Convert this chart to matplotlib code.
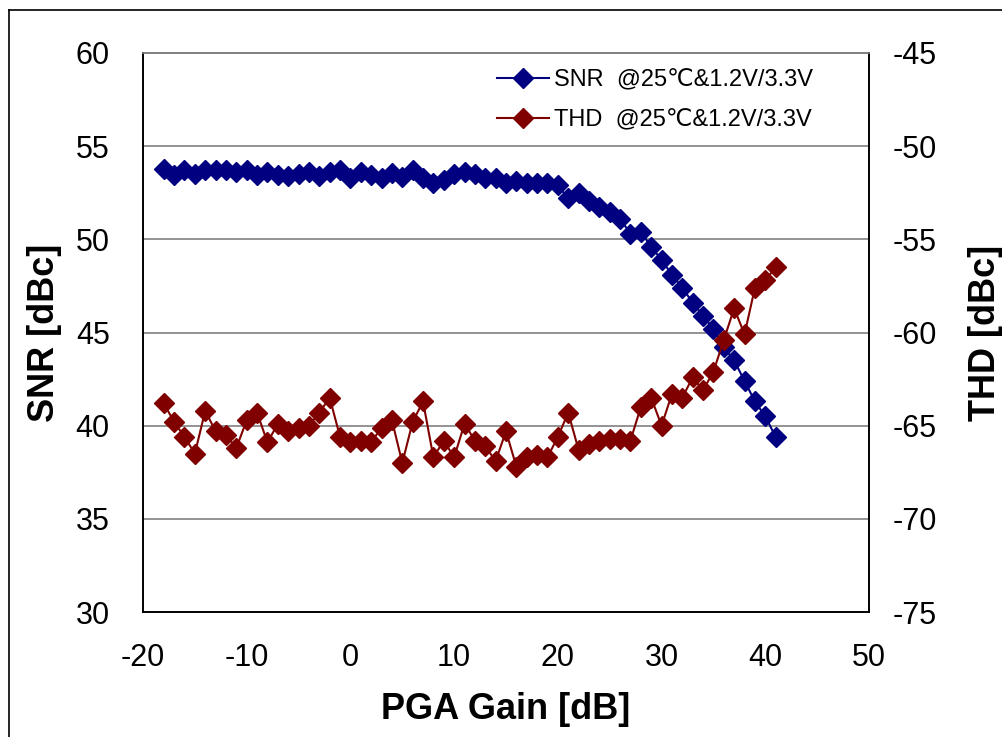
import matplotlib
matplotlib.use("Agg")
import matplotlib.pyplot as plt
import numpy as np
from matplotlib.lines import Line2D

plt.rcParams['font.family'] = ['Liberation Sans', 'DejaVu Sans']
plt.rcParams['axes.unicode_minus'] = False

# PGA gain steps [dB]
gain = np.arange(-18, 42, 1)

# SNR [dBc]
snr = [53.8, 53.45, 53.7, 53.5, 53.7, 53.7, 53.7, 53.6, 53.7, 53.45,
       53.6, 53.45, 53.4, 53.5, 53.6, 53.4, 53.6, 53.7, 53.3, 53.6,
       53.45, 53.3, 53.57, 53.36, 53.7, 53.3, 53.04, 53.2, 53.5, 53.6,
       53.5, 53.3, 53.3, 53.05, 53.15, 53.0, 53.0, 53.0, 52.9, 52.2,
       52.47, 52.05, 51.75, 51.45, 51.1, 50.3, 50.4, 49.6, 48.9, 48.1,
       47.4, 46.6, 45.9, 45.2, 44.2, 43.5, 42.4, 41.3, 40.5, 39.4]

# THD [dBc] (right axis)
thd = [-63.8, -64.8, -65.6, -66.5, -64.2, -65.3, -65.5, -66.2, -64.7, -64.3,
       -65.9, -64.9, -65.3, -65.1, -65.0, -64.3, -63.5, -65.6, -65.9, -65.8,
       -65.9, -65.1, -64.7, -67.0, -64.8, -63.7, -66.7, -65.8, -66.7, -64.9,
       -65.8, -66.1, -66.9, -65.3, -67.2, -66.7, -66.6, -66.7, -65.6, -64.3,
       -66.3, -66.0, -65.8, -65.7, -65.7, -65.8, -64.0, -63.5, -65.0, -63.3,
       -63.5, -62.4, -63.1, -62.1, -60.4, -58.7, -60.1, -57.6, -57.2, -56.5]

snr_ticks = [30, 35, 40, 45, 50, 55, 60]
thd_ticks = [-75, -70, -65, -60, -55, -50, -45]
gain_ticks = [-20, -10, 0, 10, 20, 30, 40, 50]

fig = plt.figure(figsize=(10.02, 7.37), dpi=100)
ax = fig.add_axes([143 / 1002, 125 / 737, 726 / 1002, 559 / 737])
ax2 = ax.twinx()

for y in snr_ticks[1:]:
    ax.axhline(y, color='#808080', lw=1.2, zorder=0)

ax.plot(gain, snr, color='#000080', marker='D', ms=10, lw=1.5,
        label='SNR  @25\u2103&1.2V/3.3V', zorder=3)
ax2.plot(gain, thd, color='#800000', marker='D', ms=10, lw=1.5,
         label='THD  @25\u2103&1.2V/3.3V', zorder=3)

ax.set_xlim(-20, 50)
ax.set_ylim(30, 60)
ax2.set_ylim(-75, -45)
ax.set_xticks(gain_ticks)
ax.set_yticks(snr_ticks)
ax2.set_yticks(thd_ticks)
ax.tick_params(length=0, labelsize=22)
ax.tick_params(axis='y', pad=24)
ax.tick_params(axis='x', pad=22)
ax2.tick_params(length=0, labelsize=22, pad=17)

for a in (ax, ax2):
    for s in a.spines.values():
        s.set_color('black')
        s.set_linewidth(1.2)
    a.spines['top'].set_color('#808080')

ax.set_xlabel('PGA Gain [dB]', fontsize=26, fontweight='bold', va='center')
ax.xaxis.set_label_coords(0.5, -0.175)
ax.set_ylabel('SNR [dBc]', fontsize=26, fontweight='bold', va='center')
ax.yaxis.set_label_coords(-0.136, 0.5)
ax2.set_ylabel('THD [dBc]', fontsize=26, fontweight='bold', va='center',
               rotation=90)
ax2.yaxis.set_label_coords(1.16, 0.5)

h1, l1 = ax.get_legend_handles_labels()
h2, l2 = ax2.get_legend_handles_labels()
ax2.legend(h1 + h2, l1 + l2, loc='upper left', bbox_to_anchor=(0.465, 1.0),
           frameon=False, fontsize=17, handlelength=2.2, handletextpad=0.2,
           labelspacing=0.76, borderaxespad=0.3)

# outer chart border
fig.add_artist(Line2D([9 / 1002, 9 / 1002], [0, 1 - 10 / 737], color='black', lw=1.2))
fig.add_artist(Line2D([9 / 1002, 1], [1 - 10 / 737, 1 - 10 / 737], color='black', lw=1.2))

fig.savefig('out.png', dpi=100)
